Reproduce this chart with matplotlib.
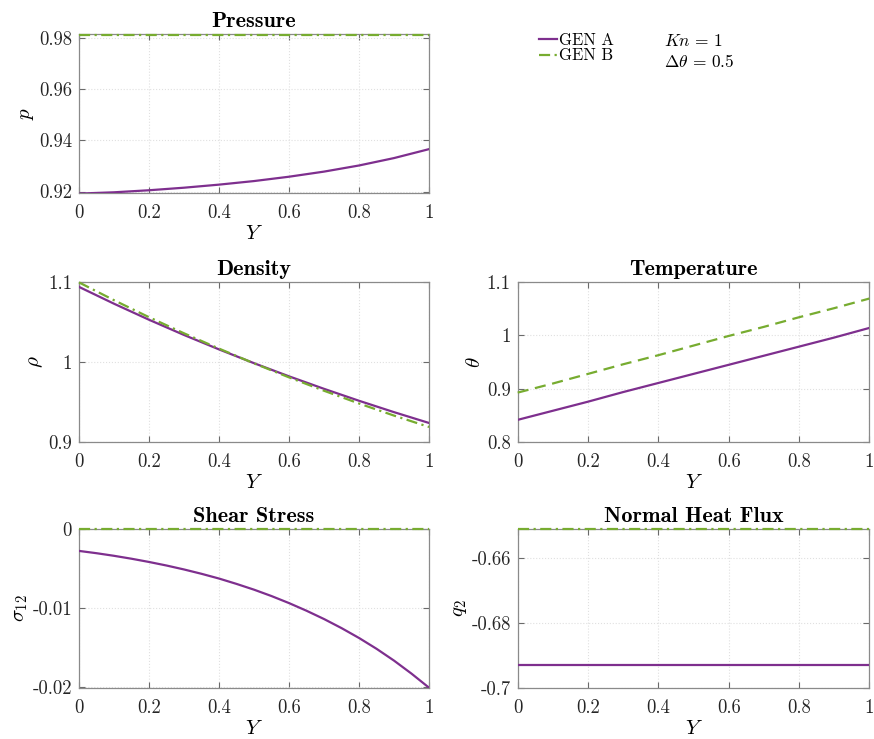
import matplotlib
matplotlib.use("Agg")
import matplotlib.pyplot as plt
from matplotlib.lines import Line2D

plt.rcParams['mathtext.fontset'] = 'cm'
plt.rcParams['font.family'] = 'serif'
plt.rcParams['font.serif'] = ['cmr10', 'DejaVu Serif']
plt.rcParams['axes.unicode_minus'] = False

PURPLE = '#7E2F8E'
GREEN = '#77AC30'
DASHDOT = (0, (5, 2, 1, 2))

Y = [0.0, 0.1, 0.2, 0.3, 0.4, 0.5, 0.6, 0.7, 0.8, 0.9, 1.0]
Y21 = [0.0, 0.05, 0.1, 0.15, 0.2, 0.25, 0.3, 0.35, 0.4, 0.45, 0.5,
       0.55, 0.6, 0.65, 0.7, 0.75, 0.8, 0.85, 0.9, 0.95, 1.0]

p_A = [0.9192, 0.9197, 0.9205, 0.9215, 0.9227, 0.9241, 0.9258, 0.9278, 0.9302, 0.9331, 0.9366]
p_B = [0.9814] * 11

rho_A = [1.0939, 1.0729, 1.0529, 1.0339, 1.0159, 0.9987, 0.9823, 0.9667, 0.9518, 0.9376, 0.9241]
rho_B = [1.0995, 1.0773, 1.0561, 1.0360, 1.0169, 0.9985, 0.9810, 0.9643, 0.9484, 0.9333, 0.9191]

theta_A = [0.842, 0.859, 0.876, 0.894, 0.911, 0.928, 0.945, 0.962, 0.979, 0.996, 1.014]
theta_B = [0.893, 0.910, 0.928, 0.946, 0.963, 0.981, 0.999, 1.016, 1.034, 1.051, 1.069]

sig_A = [-0.00277, -0.00306, -0.00339, -0.00376, -0.00417, -0.00462, -0.00512,
         -0.00567, -0.00627, -0.00695, -0.00768, -0.00849, -0.00938, -0.01035,
         -0.01140, -0.01255, -0.01380, -0.01517, -0.01667, -0.01832, -0.02010]
sig_B = [0.0] * 21

q_A = [-0.6931] * 11
q_B = [-0.6509] * 11

xticks = [0, 0.2, 0.4, 0.6, 0.8, 1]
xticklabels = ['0', '0.2', '0.4', '0.6', '0.8', '1']

panels = [
    dict(title='Pressure', ylabel=r'$p$', x=Y, A=p_A, B=p_B, ls_B=DASHDOT,
         ylim=(0.9193, 0.9815), yticks=[0.92, 0.94, 0.96, 0.98],
         yticklabels=['0.92', '0.94', '0.96', '0.98'],
         pos=[0.0904, 0.7384, 0.4005, 0.2150]),
    dict(title='Density', ylabel=r'$\rho$', x=Y, A=rho_A, B=rho_B, ls_B=DASHDOT,
         ylim=(0.9, 1.1), yticks=[0.9, 1.0, 1.1],
         yticklabels=['0.9', '1', '1.1'],
         pos=[0.0904, 0.4015, 0.4005, 0.2169]),
    dict(title='Temperature', ylabel=r'$\theta$', x=Y, A=theta_A, B=theta_B, ls_B=(0, (5, 3)),
         ylim=(0.8, 1.1), yticks=[0.8, 0.9, 1.0, 1.1],
         yticklabels=['0.8', '0.9', '1', '1.1'],
         pos=[0.5923, 0.4015, 0.4023, 0.2169]),
    dict(title='Shear Stress', ylabel=r'$\sigma_{12}$', x=Y21, A=sig_A, B=sig_B, ls_B=DASHDOT,
         ylim=(-0.0201, 0.0), yticks=[-0.02, -0.01, 0.0],
         yticklabels=['-0.02', '-0.01', '0'],
         pos=[0.0904, 0.0694, 0.4005, 0.2147]),
    dict(title='Normal Heat Flux', ylabel=r'$q_2$', x=Y, A=q_A, B=q_B, ls_B=DASHDOT,
         ylim=(-0.7, -0.6509), yticks=[-0.7, -0.68, -0.66],
         yticklabels=['-0.7', '-0.68', '-0.66'],
         pos=[0.5923, 0.0694, 0.4023, 0.2147]),
]

fig = plt.figure(figsize=(8.74, 7.39), dpi=100)

for pn in panels:
    ax = fig.add_axes(pn['pos'])
    ax.plot(pn['x'], pn['A'], color=PURPLE, lw=1.6, zorder=3)
    ax.plot(pn['x'], pn['B'], color=GREEN, lw=1.6, ls=pn['ls_B'], zorder=4,
            clip_on=False)
    ax.set_xlim(0, 1)
    ax.set_ylim(*pn['ylim'])
    ax.set_xticks(xticks)
    ax.set_xticklabels(xticklabels)
    ax.set_yticks(pn['yticks'])
    ax.set_yticklabels(pn['yticklabels'])
    ax.grid(True, color='#e0e0e0', ls=':', lw=0.8)
    ax.set_axisbelow(True)
    for s in ax.spines.values():
        s.set_color('#8a8a8a')
        s.set_linewidth(0.9)
    ax.tick_params(direction='in', top=True, right=True, length=4,
                   width=0.8, color='#6a6a6a', labelsize=13.5,
                   labelcolor='#262626')
    ax.tick_params(axis='x', pad=8)
    ax.tick_params(axis='y', pad=5)
    ax.set_title(pn['title'], fontname='cmb10', fontsize=16, pad=5)
    ax.set_xlabel(r'$Y$', fontsize=15, labelpad=2)
    ax.set_ylabel(pn['ylabel'], fontsize=15, labelpad=2)

handles = [Line2D([], [], color=PURPLE, lw=1.6),
           Line2D([], [], color=GREEN, lw=1.6, ls=DASHDOT)]
fig.legend(handles, ['GEN A', 'GEN B'], loc='upper left',
           bbox_to_anchor=(0.607, 0.967), frameon=False, fontsize=12,
           handlelength=1.1, handletextpad=0.1, labelspacing=0.0,
           borderpad=0)
fig.text(0.760, 0.945, r'$Kn\,=\,1$', fontsize=12.5, ha='left', va='center')
fig.text(0.760, 0.917, r'$\Delta\theta\,=\,0.5$', fontsize=12.5, ha='left', va='center')

fig.savefig('out.png', dpi=100)
